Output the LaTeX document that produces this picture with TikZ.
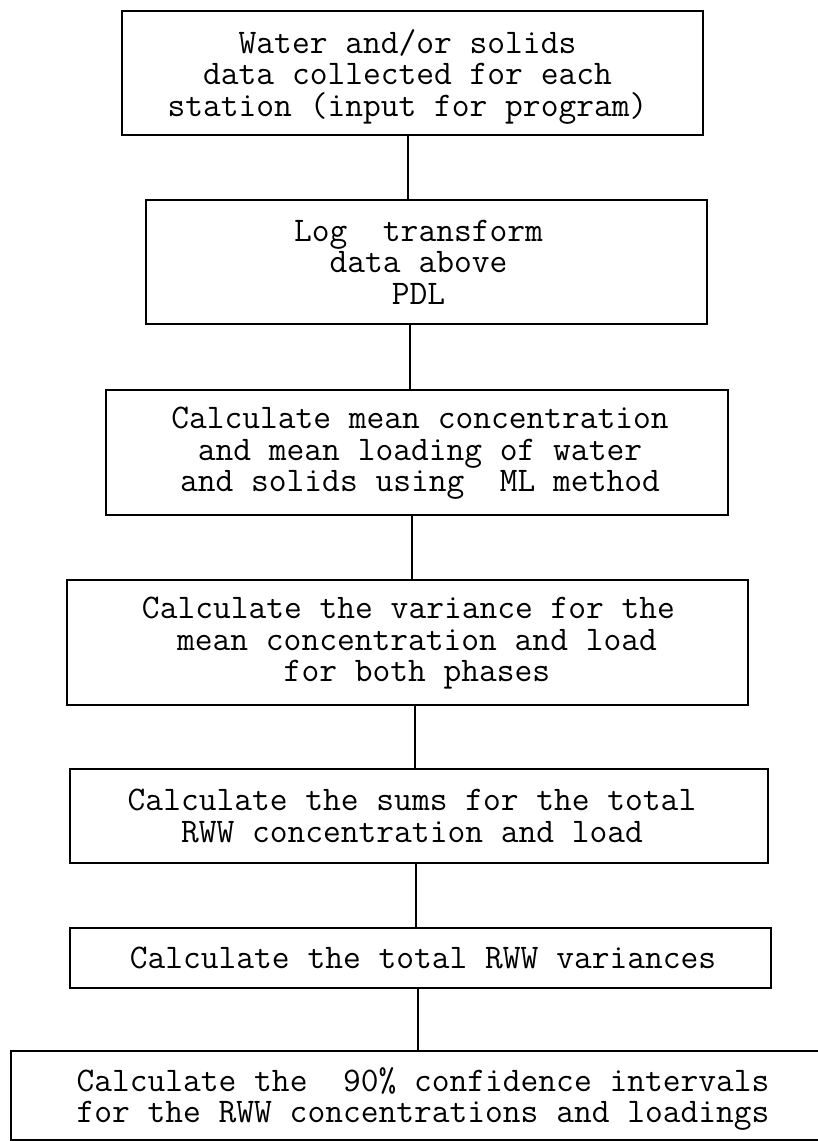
\documentclass[tikz,border=0pt]{standalone}
\begin{document}
\begin{tikzpicture}[x=1pt,y=-1pt,
  box/.style={draw, line width=2pt, inner sep=0pt},
  txt/.style={inner sep=0pt, align=center,
    font=\fontsize{34.5}{31.5}\selectfont\ttfamily},
  link/.style={line width=2pt}]
\useasboundingbox (0,0) rectangle (818,1141);
% boxes
\node[box, minimum width=581pt, minimum height=124pt] (b1) at (412.5,73) {};
\node[box, minimum width=561pt, minimum height=124pt] (b2) at (426.5,262) {};
\node[box, minimum width=622pt, minimum height=125pt] (b3) at (417,452.5) {};
\node[box, minimum width=681pt, minimum height=125pt] (b4) at (407.5,642.5) {};
\node[box, minimum width=698pt, minimum height=94pt] (b5) at (419,816) {};
\node[box, minimum width=701pt, minimum height=60pt] (b6) at (420.5,958) {};
\node[box, minimum width=840pt, minimum height=89pt] (b7) at (431,1095.5) {};
% texts
\node[txt, xshift=-5pt, yshift=-3.5pt] (t1) at (b1.center)
  {Water and/or solids\\data collected for each\\station (input for program)};
\node[txt, xshift=-8pt] (t2) at (b2.center)
  {Log~~transform\\data above\\PDL};
\node[txt, xshift=3pt, yshift=-1pt] (t3) at (b3.center)
  {Calculate mean concentration\\and mean loading of water\\and solids using~~ML method};
\node[txt, xshift=9.5pt, yshift=-1pt] (t4) at (b4.center)
  {Calculate the variance for the\makebox[17pt]{}\\mean concentration and load\\for both phases};
\node[txt, xshift=-7pt] (t5) at (b5.center)
  {Calculate the sums for the total\\RWW concentration and load};
\node[txt, xshift=2.5pt] (t6) at (b6.center)
  {Calculate the total RWW variances};
\node[txt, yshift=-3.5pt] (t7) at (423,1095.5)
  {Calculate the~~90\% confidence intervals\\for the RWW concentrations and loadings};
% connectors
\coordinate (k1) at (408,0);
\coordinate (k2) at (410,0);
\coordinate (k3) at (412,0);
\coordinate (k4) at (415,0);
\coordinate (k5) at (416,0);
\coordinate (k6) at (418,0);
\draw[link] (b1.south -| k1) -- (b2.north -| k1);
\draw[link] (b2.south -| k2) -- (b3.north -| k2);
\draw[link] (b3.south -| k3) -- (b4.north -| k3);
\draw[link] (b4.south -| k4) -- (b5.north -| k4);
\draw[link] (b5.south -| k5) -- (b6.north -| k5);
\draw[link] (b6.south -| k6) -- (b7.north -| k6);
\end{tikzpicture}
\end{document}
